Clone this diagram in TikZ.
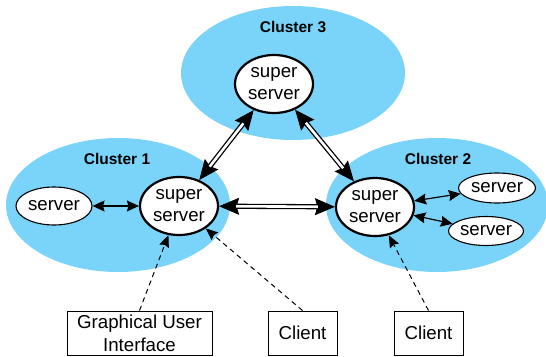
\documentclass[tikz,border=0pt]{standalone}
\usepackage{fontspec}
\setmainfont{Liberation Sans}
\usetikzlibrary{arrows.meta,shapes.geometric}
\definecolor{clusterblue}{RGB}{122,212,250}
\begin{document}
\begin{tikzpicture}[x=1pt,y=-1pt,
  cluster/.style={ellipse,fill=clusterblue,draw=none,inner sep=0pt},
  clabel/.style={font=\fontsize{15.5}{18}\selectfont\bfseries,inner sep=0pt},
  super/.style={ellipse,draw,fill=white,line width=2.2pt,inner sep=0pt,minimum width=78pt,minimum height=58pt,align=center,font=\fontsize{18.7}{22}\selectfont},
  srv/.style={ellipse,draw,fill=white,line width=1.1pt,inner sep=0pt,font=\fontsize{18.7}{22}\selectfont},
  box/.style={rectangle,draw,fill=white,line width=1pt,inner sep=0pt,minimum height=44pt,align=center,font=\fontsize{18.7}{23}\selectfont},
  bigtips/.style={line width=1pt,{Stealth[length=20pt,width=17pt,inset=2.5pt]}-{Stealth[length=20pt,width=17pt,inset=2.5pt]}},
  dbl/.style={double,double distance=2.6pt,line width=1.3pt,shorten <=17pt,shorten >=17pt},
  sng/.style={line width=1.2pt,{Stealth[length=12pt,width=11pt,inset=1.5pt]}-{Stealth[length=12pt,width=11pt,inset=1.5pt]}},
  dsh/.style={line width=1pt,dash pattern=on 5pt off 4pt,-{Stealth[length=12pt,width=10pt,inset=1.5pt]}}
]
\useasboundingbox (0,0) rectangle (546,356);
% clusters
\node[cluster,minimum width=224pt,minimum height=134pt] (c3) at (293,73) {};
\node[cluster,minimum width=224pt,minimum height=134pt] (c1) at (118,205) {};
\node[cluster,minimum width=222pt,minimum height=134pt] (c2) at (437,205) {};
\node[clabel] (l3) at (293,27) {Cluster 3};
\node[clabel] (l1) at (117,159) {Cluster 1};
\node[clabel] (l2) at (438,159) {Cluster 2};
% nodes
\node[super] (s3) at (274,84) {super\\server};
\node[super] (s1) at (179,206) {super\\server};
\node[super] (s2) at (375,207) {super\\server};
\node[srv,minimum width=76pt,minimum height=38pt] (v1) at (54,206) {server};
\node[srv,minimum width=77pt,minimum height=30pt] (v2a) at (497,188) {server};
\node[srv,minimum width=75pt,minimum height=29pt] (v2b) at (486,231) {server};
\node[box,minimum width=145pt] (gui) at (139.5,333) {Graphical User\\Interface};
\node[box,minimum width=69pt] (cl1) at (302.5,333) {Client};
\node[box,minimum width=69pt] (cl2) at (428.5,333) {Client};
% connectors
\draw[bigtips] (s1) -- (s3);
\draw[dbl] (s1) -- (s3);
\draw[bigtips] (s3) -- (s2);
\draw[dbl] (s3) -- (s2);
\draw[bigtips] (s1) -- (s2);
\draw[dbl] (s1) -- (s2);
\draw[sng] (v1) -- (s1);
\draw[sng] (s2) -- (v2a);
\draw[sng] (s2) -- (v2b);
\draw[dsh] (gui.north) -- (s1.250);
\draw[dsh] (cl1.north) -- (s1.320);
\draw[dsh] (cl2.north) -- (s2.296);
\end{tikzpicture}
\end{document}
